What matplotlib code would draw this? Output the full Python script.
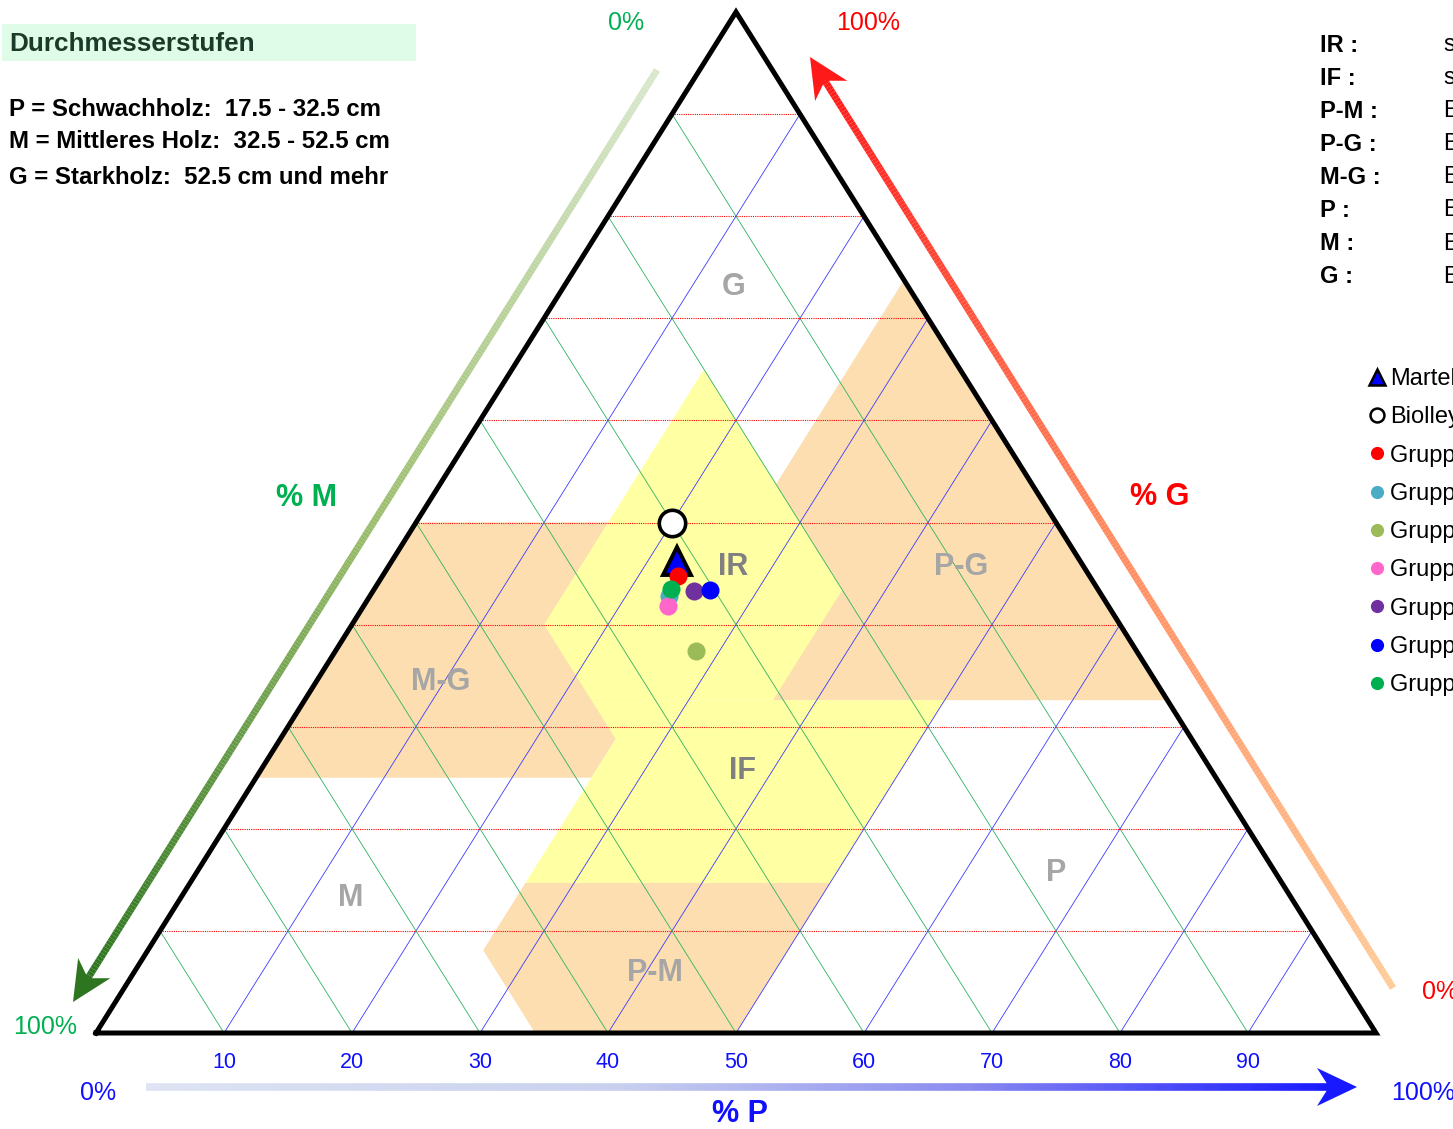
import matplotlib
matplotlib.use("Agg")
import matplotlib.pyplot as plt
import numpy as np
from matplotlib.collections import LineCollection
from matplotlib.patches import Polygon, Rectangle
from matplotlib.lines import Line2D
from matplotlib.colors import to_rgb

plt.rcParams['font.family'] = ['Liberation Sans', 'DejaVu Sans']

W, H = 1453, 1129

# --- data (percent) ---
ticks = [10, 20, 30, 40, 50, 60, 70, 80, 90]
tick_labels = [str(t) for t in ticks]

# zones as (P, G) corners
zone_pg = [(26.25, 73.75), (67.4, 32.6), (26.25, 32.6)]
zone_mg = [(0, 50), (0, 25), (26.2, 25), (26.2, 50)]
zone_pm = [(26.2, 14.7), (50, 14.7), (50, 0), (34.3, 0), (26.2, 8.1)]
zone_ir = [(15, 65), (36.6, 43.4), (36.6, 32.6), (22.4, 32.6), (15, 40)]
zone_if = [(22.4, 32.6), (50, 32.6), (50, 14.7), (26.2, 14.7), (26.2, 28.8)]

zone_names = ["G", "IR", "P-G", "M-G", "IF", "P", "M", "P-M"]

# points
names = ["Martelloskop", "Biolley", "Gruppe 1", "Gruppe 2", "Gruppe 3",
         "Gruppe 4", "Gruppe 5", "Gruppe 6", "Gruppe 7"]
pct_P = [22.3, 20.0, 23.1, 23.4, 28.2, 23.8, 25.1, 26.3, 23.2]
pct_G = [46.2, 50.0, 44.8, 42.8, 37.4, 41.8, 43.3, 43.4, 43.5]
pct_M = [100 - p - g for p, g in zip(pct_P, pct_G)]
colors = ["#0000FF", "white", "#FF0000", "#4BACC6", "#9BBB59",
          "#FF66CC", "#7030A0", "#0000FF", "#00B050"]

info_keys = ["IR :", "IF :", "P-M :", "P-G :", "M-G :", "P :", "M :", "G :"]
info_text = ["stufig, regelmässig", "stufig, fein", "Bestand mit Schwach- und Mittelholz",
             "Bestand mit Schwach- und Starkholz", "Bestand mit Mittel- und Starkholz",
             "Bestand mit viel Schwachholz", "Bestand mit viel Mittelholz",
             "Bestand mit viel Starkholz"]


def tern(p, g):
    "ternary percent -> plot coords"
    p = np.asarray(p, float) / 100
    g = np.asarray(g, float) / 100
    return p + g / 2, g


def zone(ax, pts, color):
    x, y = tern([a for a, b in pts], [b for a, b in pts])
    ax.add_patch(Polygon(np.column_stack([x, y]), closed=True, color=color, lw=0, zorder=1))


def grad_arrow(ax, x0, y0, x1, y1, stops, lw=5, head=40, hw=19):
    "arrow with colour gradient, pixel coords"
    d = np.array([x1 - x0, y1 - y0])
    u = d / np.hypot(*d)
    n = 300
    xe, ye = x1 - u[0] * head * 0.7, y1 - u[1] * head * 0.7
    xs = np.linspace(x0, xe, n + 1)
    ys = np.linspace(y0, ye, n + 1)
    segs = np.stack([np.column_stack([xs[:-1], ys[:-1]]),
                     np.column_stack([xs[1:], ys[1:]])], axis=1)
    t = np.linspace(0, 1, n)
    st = [s for s, c in stops]
    cs = np.array([to_rgb(c) for s, c in stops])
    cols = np.column_stack([np.interp(t, st, cs[:, k]) for k in range(3)])
    ax.add_collection(LineCollection(segs, colors=cols, linewidths=lw, capstyle='butt'))
    nrm = np.array([-u[1], u[0]])
    tip = np.array([x1, y1])
    base = tip - u * head
    notch = tip - u * head * 0.7
    ax.add_patch(Polygon([tip, base + nrm * hw, notch, base - nrm * hw],
                         closed=True, color=cs[-1], lw=0))


fig = plt.figure(figsize=(W / 100, H / 100), dpi=100)

# pixel overlay for decorations
pax = fig.add_axes([0, 0, 1, 1], zorder=0)
pax.set_xlim(0, W)
pax.set_ylim(H, 0)
pax.axis('off')

# ternary axes
ax = fig.add_axes([96 / W, (H - 1033) / H, 1280 / W, 1021 / H], zorder=1)
ax.set_xlim(0, 1)
ax.set_ylim(0, 1)
ax.axis('off')

orange = "#FCDEB1"
yellow = "#FFFFA3"
zone(ax, zone_pg, orange)
zone(ax, zone_mg, orange)
zone(ax, zone_pm, orange)
zone(ax, zone_ir, yellow)
zone(ax, zone_if, yellow)

# grid
for t in ticks:
    x, y = tern([0, 100 - t], [t, t])
    ax.plot(x, y, color="red", lw=0.8, ls=(0, (1, 1)), zorder=2)
    x, y = tern([t, t], [0, 100 - t])
    ax.plot(x, y, color="#3a3aff", lw=0.6, zorder=2)
    x, y = tern([100 - t, 0], [0, 100 - t])
    ax.plot(x, y, color="#2cb35f", lw=0.6, zorder=2)

# triangle frame
x, y = tern([0, 100, 0, 0], [0, 0, 100, 0])
ax.plot(x, y, color="black", lw=3.6, solid_joinstyle='miter', zorder=3, clip_on=False)

# zone labels
lab_pos = [(0.498, 0.731), (0.498, 0.456), (0.676, 0.456), (0.269, 0.344),
           (0.505, 0.257), (0.75, 0.157), (0.199, 0.132), (0.437, 0.059)]
for nm, (lx, ly) in zip(zone_names, lab_pos):
    c = "#808080" if nm in ("IR", "IF") else "#A6A6A6"
    ax.text(lx, ly, nm, color=c, fontsize=22, fontweight='bold', ha='center', va='center', zorder=4)

# points + legend proxies
handles = []
for i, nm in enumerate(names):
    x, y = tern(pct_P[i], pct_G[i])
    if i == 0:
        ax.plot(x, y, '^', ms=20, mfc=colors[i], mec='black', mew=2.8, ls='none', zorder=5)
        h = Line2D([], [], marker='^', ms=11, mfc=colors[i], mec='black', mew=1.8, ls='none')
    elif i == 1:
        ax.plot(x, y, 'o', ms=19, mfc='white', mec='black', mew=2.6, ls='none', zorder=5)
        h = Line2D([], [], marker='o', ms=10, mfc='white', mec='black', mew=1.8, ls='none')
    else:
        ax.plot(x, y, 'o', ms=13, mfc=colors[i], mec='none', ls='none', zorder=5)
        h = Line2D([], [], marker='o', ms=9.5, mfc=colors[i], mec='none', ls='none')
    handles.append(h)

# bottom tick labels
for t, s in zip(ticks, tick_labels):
    ax.text(t / 100, -0.0285, s, color="#1010FF", fontsize=15.5, ha='center', va='center')

# arrows
grad_arrow(pax, 657, 70, 73, 1002,
           [(0, "#D9E8CD"), (0.5, "#9CBE6E"), (1, "#2E7520")])
grad_arrow(pax, 1393, 988, 810, 57,
           [(0, "#FFCC99"), (0.5, "#FF8A5E"), (1, "#FF1A1A")])
grad_arrow(pax, 146, 1087, 1357, 1087,
           [(0, "#DEE4F3"), (0.4, "#C8D0EE"), (0.69, "#8C8CF0"), (1, "#1919FF")], lw=5.5)

# axis texts
green = "#00B050"
pax.text(626, 23, "0%", color=green, fontsize=18, ha='center', va='center')
pax.text(868, 23, "100%", color="#FF0000", fontsize=18, ha='center', va='center')
pax.text(306, 498, "% M", color=green, fontsize=22, fontweight='bold', ha='center', va='center')
pax.text(1160, 497, "% G", color="#FF0000", fontsize=22, fontweight='bold', ha='center', va='center')
pax.text(45, 1027, "100%", color=green, fontsize=18, ha='center', va='center')
pax.text(1422, 992, "0%", color="#FF0000", fontsize=18, ha='left', va='center')
pax.text(98, 1093, "0%", color="#1010FF", fontsize=18, ha='center', va='center')
pax.text(1391, 1093, "100%", color="#1010FF", fontsize=18, ha='left', va='center')
pax.text(740, 1114, "% P", color="#1010FF", fontsize=22, fontweight='bold', ha='center', va='center')

# header
pax.add_patch(Rectangle((2, 24), 414, 37, color="#DEFCE8", lw=0))
pax.text(9, 44, "Durchmesserstufen", color="#1B3A28", fontsize=18.8, fontweight='bold', va='center')
header = ["P = Schwachholz:  17.5 - 32.5 cm",
          "M = Mittleres Holz:  32.5 - 52.5 cm",
          "G = Starkholz:  52.5 cm und mehr"]
for yy, s in zip([109, 142, 177], header):
    pax.text(9, yy, s, fontsize=17.3, fontweight='bold', va='center')

# info block (right, cut by edge as in the original)
for i, (k, s) in enumerate(zip(info_keys, info_text)):
    yy = 45 + i * 33.1
    pax.text(1320, yy, k, fontsize=17, fontweight='bold', va='center')
    pax.text(1444, yy, s, fontsize=17, va='center')

fig.legend(handles, names, loc='upper left', bbox_to_anchor=(1369, 368),
           bbox_transform=pax.transData, frameon=False, fontsize=17,
           handlelength=0.7, handletextpad=0.2,
           labelspacing=0.69, borderpad=0, borderaxespad=0)

fig.savefig("out.png", dpi=100)
